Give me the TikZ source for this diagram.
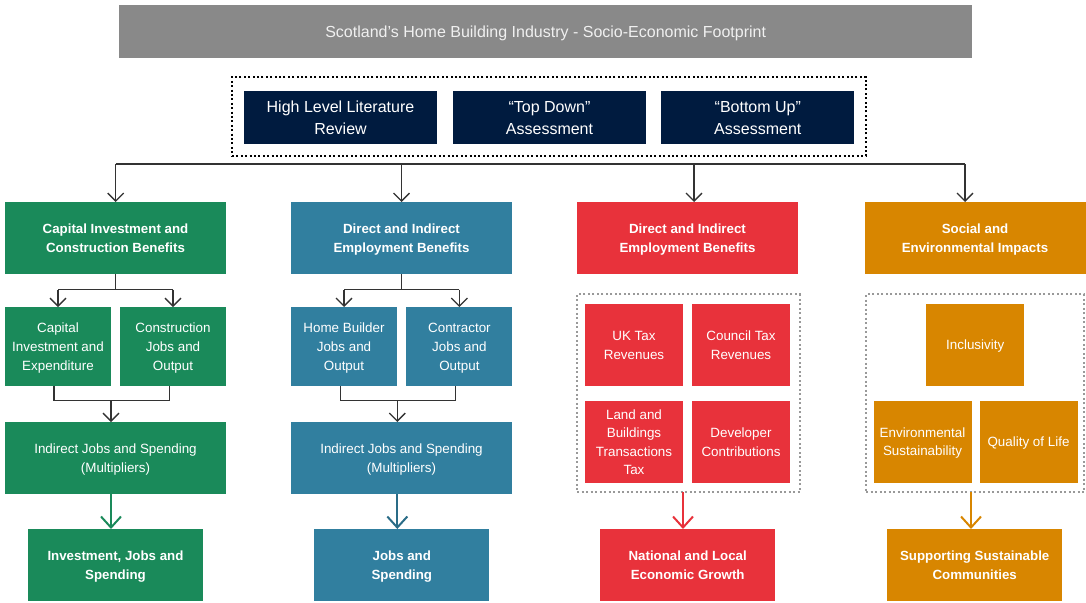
\documentclass[tikz,border=0pt]{standalone}
\usepackage{fontspec}
\setmainfont{Liberation Sans}
\usetikzlibrary{arrows.meta}
\definecolor{cgreen}{HTML}{1A8A5A}
\definecolor{cblue}{HTML}{317F9F}
\definecolor{cred}{HTML}{E8323B}
\definecolor{corange}{HTML}{D88600}
\definecolor{cnavy}{HTML}{001B3F}
\definecolor{cgray}{HTML}{898989}
\definecolor{cline}{HTML}{333333}
\definecolor{cdots}{HTML}{999999}
\begin{document}
\begin{tikzpicture}[x=1pt,y=-1pt,
  box/.style={inner sep=0pt, outer sep=0pt, align=center, text=white, text depth=0pt},
  headfont/.style={font=\fontsize{13.3}{19}\selectfont\bfseries},
  subfont/.style={font=\fontsize{13.4}{19}\selectfont},
  navybox/.style={box, fill=cnavy, minimum width=193, minimum height=53,
    font=\fontsize{16}{22}\selectfont},
  head/.style={box, headfont, minimum width=221, minimum height=72},
  final/.style={box, headfont, minimum width=175, minimum height=72},
  sub/.style={box, subfont, minimum width=106, minimum height=79},
  tile/.style={box, subfont, minimum width=98, minimum height=82},
  mid/.style={box, subfont, minimum width=221, minimum height=72},
  grayframe/.style={draw=cdots, line width=2pt, dash pattern=on 2pt off 2.5pt,
    inner sep=0pt, outer sep=0pt},
  link/.style={draw=cline, line width=1.3pt},
  arr/.style={link, -{Straight Barb[length=8pt,width=16pt]}},
  carr/.style={line width=2pt, -{Straight Barb[length=11pt,width=20pt]}}]
\useasboundingbox (0,0) rectangle (1086,602);

% title banner
\node[box, fill=cgray, text=white!94!black, minimum width=853, minimum height=53,
  font=\fontsize{16}{18}\selectfont] (title) at (545.7,31.5)
  {Scotland’s Home Building Industry - Socio-Economic Footprint};

% assessment methods
\node[draw=black, line width=2pt, dash pattern=on 2pt off 2.4pt, inner sep=0pt,
  minimum width=634, minimum height=79] (frame) at (549,116.5) {};
\node[navybox] (lit) at (340.5,117.5) {High Level Literature\\Review};
\node[navybox] (top) at (549.5,117.5) {“Top Down”\\Assessment};
\node[navybox] (bot) at (757.8,117.5) {“Bottom Up”\\Assessment};

% column headers
\node[head, fill=cgreen]  (h1) at (115.5,238) {Capital Investment and\\Construction Benefits};
\node[head, fill=cblue]   (h2) at (401.5,238) {Direct and Indirect\\Employment Benefits};
\node[head, fill=cred]    (h3) at (687.5,238) {Direct and Indirect\\Employment Benefits};
\node[head, fill=corange] (h4) at (975,238)   {Social and\\Environmental Impacts};

% bus from the methods frame to the headers
\coordinate (b1) at (115.7,164);
\coordinate (b2) at (401.5,164);
\coordinate (b3) at (694,164);
\coordinate (b4) at (965,164);
\draw[link] (b1) -- (b4);
\draw[arr] (b1) -- (b1 |- h1.north);
\draw[arr] (b2) -- (b2 |- h2.north);
\draw[arr] (b3) -- (b3 |- h3.north);
\draw[arr] (b4) -- (b4 |- h4.north);

% column 1
\node[sub, fill=cgreen] (s1a) at (58,346.5)  {Capital\\Investment and\\Expenditure};
\node[sub, fill=cgreen] (s1b) at (173,346.5) {Construction\\Jobs and\\Output};
\node[mid, fill=cgreen] (m1) at (115.5,458)  {Indirect Jobs and Spending\\(Multipliers)};
\node[final, fill=cgreen] (f1) at (115.5,565) {Investment, Jobs and\\Spending};
\draw[link] (h1.south) -- ++(0,15.5) coordinate (k1);
\draw[arr] (k1 -| s1a.north) -- (s1a.north) ;
\draw[arr] (k1 -| s1b.north) -- (s1b.north);
\draw[link] (k1 -| s1a.north) -- (k1 -| s1b.north);
\coordinate (j1) at (111,400.3);
\draw[link] ([xshift=-4pt]s1a.south) |- (j1) -| ([xshift=-3.5pt]s1b.south);
\draw[arr] (j1) -- (j1 |- m1.north);
\coordinate (c1) at (111,0);
\draw[carr, cgreen] (c1 |- m1.south) -- (c1 |- f1.north);

% column 2
\node[sub, fill=cblue] (s2a) at (344,346.5)   {Home Builder\\Jobs and\\Output};
\node[sub, fill=cblue] (s2b) at (459.4,346.5) {Contractor\\Jobs and\\Output};
\node[mid, fill=cblue] (m2) at (401.5,458)    {Indirect Jobs and Spending\\(Multipliers)};
\node[final, fill=cblue] (f2) at (401.8,565)  {Jobs and\\Spending};
\draw[link] (h2.south) -- ++(0,15.5) coordinate (k2);
\draw[arr] (k2 -| s2a.north) -- (s2a.north);
\draw[arr] (k2 -| s2b.north) -- (s2b.north);
\draw[link] (k2 -| s2a.north) -- (k2 -| s2b.north);
\coordinate (j2) at (397.3,400.3);
\draw[link] ([xshift=-3.7pt]s2a.south) |- (j2) -| ([xshift=-3.6pt]s2b.south);
\draw[arr] (j2) -- (j2 |- m2.north);
\coordinate (c2) at (397.3,0);
\draw[carr, cblue!85!black] (c2 |- m2.south) -- (c2 |- f2.north);

% column 3
\node[grayframe, minimum width=222.6, minimum height=197.7] (g3) at (688.3,393.2) {};
\node[tile, fill=cred] (r1) at (634,345) {UK Tax\\Revenues};
\node[tile, fill=cred] (r2) at (741,345) {Council Tax\\Revenues};
\node[tile, fill=cred, font=\fontsize{13.4}{18.5}\selectfont] (r3) at (634,442)
  {Land and\\Buildings\\Transactions\\Tax};
\node[tile, fill=cred] (r4) at (741,442) {Developer\\Contributions};
\node[final, fill=cred] (f3) at (687.7,565) {National and Local\\Economic Growth};
\coordinate (c3) at (683,0);
\draw[carr, cred] (c3 |- g3.south) -- (c3 |- f3.north);

% column 4
\node[grayframe, minimum width=218, minimum height=197.7] (g4) at (975,393.2) {};
\node[tile, fill=corange] (inc) at (975.2,345) {Inclusivity};
\node[tile, fill=corange, font=\fontsize{13.4}{18}\selectfont] (env) at (922.5,442)
  {Environmental\\Sustainability};
\node[tile, fill=corange] (qol) at (1028.5,442) {Quality of Life};
\node[final, fill=corange] (f4) at (974.7,565) {Supporting Sustainable\\Communities};
\coordinate (c4) at (971,0);
\draw[carr, corange] (c4 |- g4.south) -- (c4 |- f4.north);
\end{tikzpicture}
\end{document}
